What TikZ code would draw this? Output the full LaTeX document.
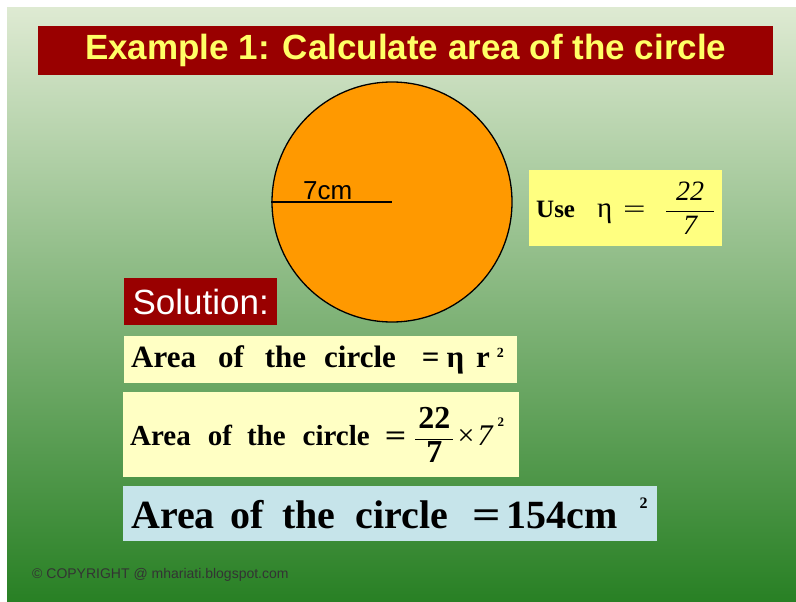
\documentclass[tikz,border=0pt]{standalone}
\usepackage{fontspec}
\usepackage{graphicx}
\setmainfont{Liberation Serif}
\setsansfont{Liberation Sans}
\usetikzlibrary{positioning}
\definecolor{slidetop}{RGB}{222,234,210}
\definecolor{slidemid}{RGB}{132,182,84}
\definecolor{slidebot}{RGB}{40,128,36}
\definecolor{barred}{RGB}{153,0,0}
\definecolor{titleyellow}{RGB}{255,255,102}
\definecolor{discorange}{RGB}{255,153,0}
\definecolor{paleyellow}{RGB}{255,255,196}
\definecolor{brightyellow}{RGB}{255,255,128}
\definecolor{paleblue}{RGB}{198,228,234}
\newcommand{\fsz}[1]{\fontsize{#1}{#1}\selectfont}
\newcommand{\pow}[2]{\raisebox{#1}{\fsz{#2}\textbf{2}}}

\begin{document}
\begin{tikzpicture}[
      x=1pt,
      y=-1pt,
      banner/.style={fill=barred,anchor=north west,inner sep=0pt},
      sheet/.style={anchor=north west,inner xsep=7pt,inner ysep=0pt,align=left},
      disc/.style={circle,draw=black,line width=1.3pt,fill=discorange,minimum size=240pt,inner sep=0pt},
      radius/.style={black,line width=1.5pt}
    ]
      \fill[white] (0,0) rectangle (796,602);
      \useasboundingbox (0,0) rectangle (796,602);
      \shade[top color=slidetop,middle color=slidemid,bottom color=slidebot] (7,8) rectangle (796,602);
      % heading
      \node[banner,minimum width=735pt,minimum height=49pt,text=titleyellow,font=\sffamily\bfseries\fsz{35}] (title) at (38,26) {Example 1: Calculate area of the circle};
      % the circle and its radius
      \node[disc] (disc) at (392,202) {};
      \draw[radius] (disc.west) -- node[above,inner sep=1pt,xshift=-4pt,font=\sffamily\fsz{26}] (rlabel) {7cm} (disc.center);
      \node[sheet,fill=brightyellow,minimum width=193pt,minimum height=76pt,text width=179pt,font=\fsz{25}] (use) at (529,170)
        {\mbox{\textbf{Use}\hspace{22pt}{\fsz{29}η}\hspace{11pt}\scalebox{1.6}[1]{=}\hspace{19pt}$\displaystyle\frac{\makebox[48pt]{\itshape\fsz{28}22}}{\mbox{\itshape\fsz{28}7}}$}};
      % working
      \node[banner,minimum width=153pt,minimum height=47pt,text=white,font=\sffamily\fsz{35}] (sol) at (124,278) {Solution:};
      \node[sheet,fill=paleyellow,minimum width=393pt,minimum height=47pt,text width=379pt,font=\bfseries\fsz{31}] (step1) at (124,336)
        {\mbox{Area\hspace{22pt}of\hspace{21pt}the\hspace{18pt}circle\hspace{26pt}=\hspace{7pt}η\hspace{12pt}r\hspace{7pt}\pow{10pt}{14}}};
      \node[sheet,fill=paleyellow,minimum width=396pt,minimum height=85pt,text width=382pt,font=\bfseries\fsz{29}] (step2) at (123,392)
        {\mbox{Area\hspace{17pt}of\hspace{15pt}the\hspace{17pt}circle\hspace{15pt}\scalebox{1.3}[1]{=}\hspace{8pt}$\displaystyle\frac{\makebox[38pt]{\fsz{32}\bfseries 22}}{\mbox{\fsz{32}\bfseries 7}}$\hspace{3pt}{\mdseries\fsz{30}×\hspace{3pt}\itshape 7}\hspace{5pt}\pow{19pt}{13}}};
      \node[sheet,fill=paleblue,minimum width=533pt,minimum height=55pt,text width=518pt,inner xsep=8pt,font=\bfseries\fsz{40}] (result) at (123,486)
        {\mbox{Area\hspace{16pt}of\hspace{18pt}the\hspace{20pt}circle\hspace{24pt}\scalebox{1.25}[1]{=}\hspace{6pt}154cm\hspace{22pt}\pow{20pt}{16}}};
      \node[anchor=base west,inner sep=0pt,text=black!80,font=\sffamily\fsz{14}] (copy) at (32,578) {© COPYRIGHT @ mhariati.blogspot.com};
    \end{tikzpicture}
\end{document}
